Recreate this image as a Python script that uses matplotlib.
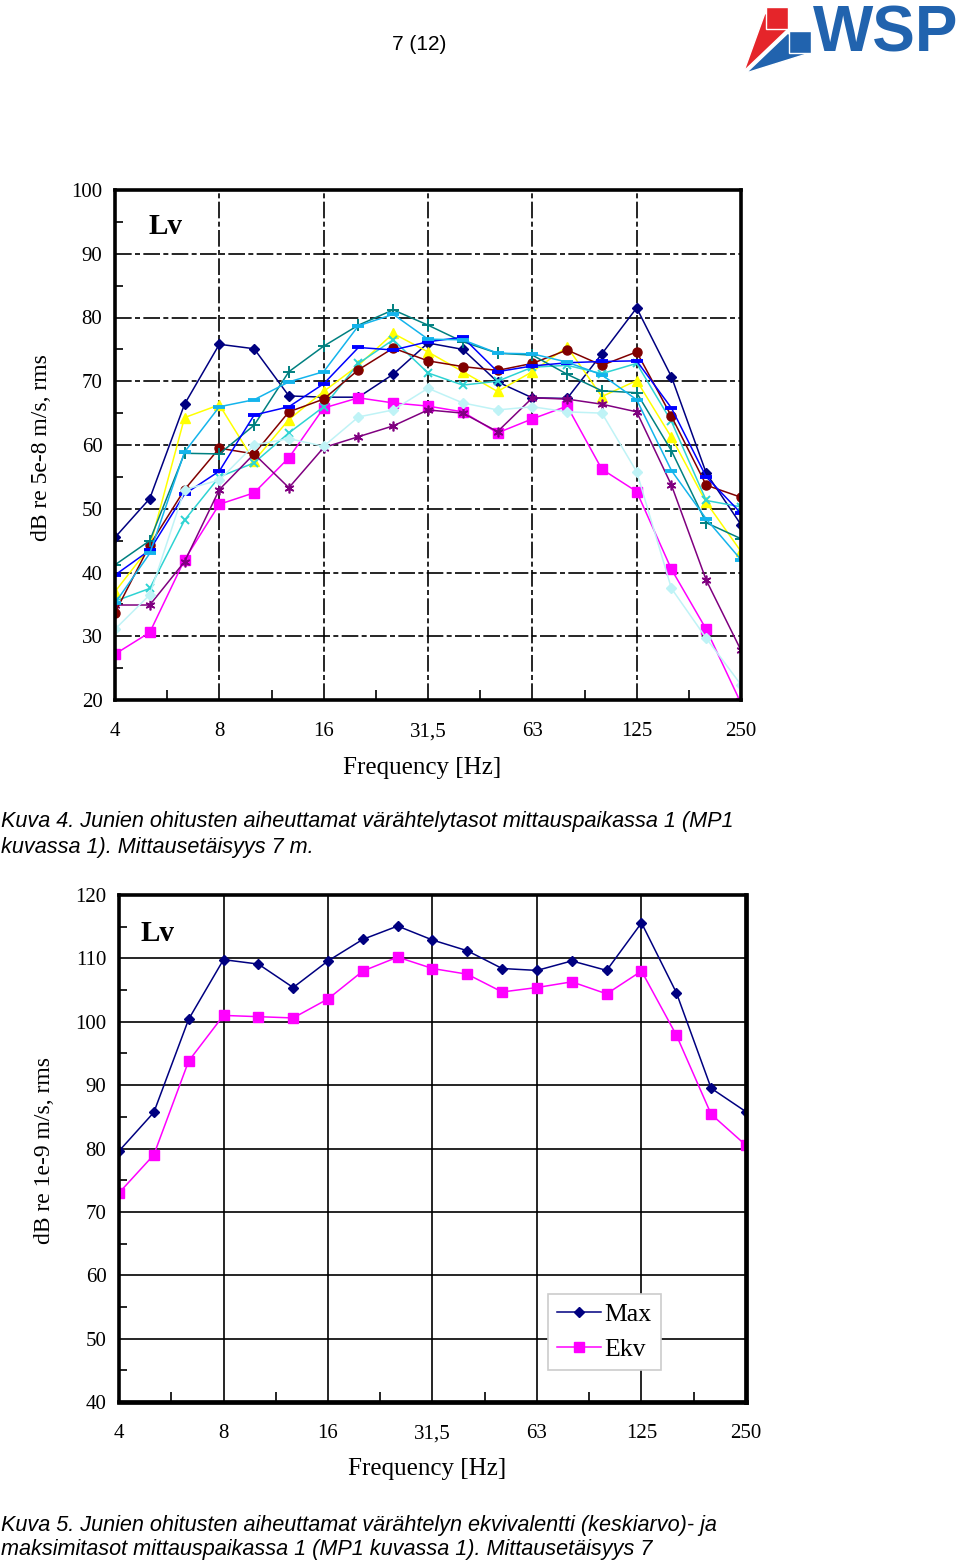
import numpy as np
import matplotlib
matplotlib.use('Agg')
import matplotlib.pyplot as plt
from matplotlib.patches import Polygon
from matplotlib.ticker import MultipleLocator

plt.rcParams['font.family'] = ['Liberation Serif', 'DejaVu Serif']

W, H = 960, 1564

# 1/3 octave bands, Hz
bands = ['4', '5', '6,3', '8', '10', '12,5', '16', '20', '25', '31,5', '40', '50',
         '63', '80', '100', '125', '160', '200', '250']
octave_labels = ['4', '8', '16', '31,5', '63', '125', '250']

# Kuva 4: single train passes, dB re 5e-8 m/s
p1 = [45.5, 51.6, 66.4, 75.8, 75.1, 67.7, 67.5, 67.5, 71.1, 76.0, 75.0, 69.9, 67.4, 67.3, 74.3, 81.5, 70.7, 55.6, 47.5]
p2 = [27.2, 30.6, 42.0, 50.7, 52.5, 58.0, 65.8, 67.4, 66.6, 66.1, 65.2, 61.9, 64.1, 66.1, 56.2, 52.7, 40.5, 31.1, 19.5]
p3 = [37.0, 44.0, 64.3, 66.3, 57.5, 64.0, 68.4, 72.5, 77.5, 74.6, 71.5, 68.4, 71.5, 75.4, 67.6, 70.1, 61.2, 51.0, 43.3]
p4 = [35.5, 37.5, 48.2, 55.0, 57.2, 61.9, 66.0, 72.8, 76.5, 71.3, 69.4, 70.0, 72.2, 72.5, 71.2, 72.8, 63.7, 51.3, 50.3]
p5 = [34.9, 34.9, 41.7, 53.0, 58.6, 53.3, 59.6, 61.3, 63.0, 65.5, 65.0, 62.1, 67.4, 67.2, 66.4, 65.2, 53.7, 38.8, 27.8]
p6 = [33.7, 44.3, 53.0, 59.5, 58.6, 65.2, 67.2, 71.8, 75.2, 73.2, 72.3, 71.7, 72.8, 74.9, 72.5, 74.6, 64.5, 53.7, 51.8]
p7 = [41.2, 45.0, 58.7, 58.6, 63.1, 71.5, 75.5, 78.8, 81.2, 78.8, 76.2, 74.4, 74.1, 71.1, 68.5, 68.2, 59.1, 47.8, 45.3]
p8 = [39.6, 43.5, 52.3, 55.9, 64.7, 66.0, 69.6, 75.3, 74.9, 76.2, 76.9, 71.5, 72.4, 72.9, 73.1, 73.2, 65.8, 55.0, 49.3]
p9 = [35.2, 43.0, 58.9, 66.0, 67.1, 69.9, 71.5, 78.7, 80.5, 76.6, 76.5, 74.4, 74.3, 73.0, 71.0, 67.1, 56.0, 48.4, 42.0]
p10 = [31.1, 36.5, 53.0, 54.5, 60.0, 61.0, 59.8, 64.4, 65.5, 68.9, 66.6, 65.5, 66.0, 65.2, 65.0, 55.8, 37.5, 29.7, 22.4]

# Kuva 5: dB re 1e-9 m/s
lv_max = [79.6, 85.7, 100.4, 109.8, 109.1, 105.4, 109.6, 113.0, 115.1, 112.9, 111.2, 108.4, 108.1, 109.6, 108.1, 115.6, 104.6, 89.5, 85.8]
lv_ekv = [73.0, 79.0, 93.8, 101.0, 100.8, 100.6, 103.6, 108.0, 110.2, 108.4, 107.5, 104.7, 105.4, 106.3, 104.4, 108.0, 97.9, 85.4, 80.5]

# colour, marker, size, edge width
styles = [
    ('#000080', 'D', 5.5, 1.0),
    ('#FF00FF', 's', 6.5, 1.0),
    ('#FFFF00', '^', 6.5, 1.0),
    ('#2ED3D3', 'x', 6.0, 1.4),
    ('#800080', (6, 2, 0), 7.0, 1.2),
    ('#800000', 'o', 6.5, 1.0),
    ('#008080', '+', 8.5, 1.4),
    ('#0000FF', '_', 8.0, 2.8),
    ('#14B4EC', '_', 9.0, 2.8),
    ('#BFF3F6', 'D', 5.0, 1.0),
]


def px_rect(x0, y0, x1, y1):
    return [x0 / W, 1 - y1 / H, (x1 - x0) / W, (y1 - y0) / H]


def style_axes(ax, ymin, ymax, gridls):
    n = len(bands)
    ax.set_xlim(0, n - 1)
    ax.set_ylim(ymin, ymax)
    ax.set_xticks(range(0, n, 3))
    ax.set_xticklabels(octave_labels)
    ax.set_xticks(np.arange(1.5, n - 1, 3), minor=True)
    ax.yaxis.set_major_locator(MultipleLocator(10))
    ax.yaxis.set_minor_locator(MultipleLocator(5))
    ax.grid(True, which='major', color='black', lw=1.2, ls=gridls)
    ax.set_axisbelow(True)
    ax.tick_params(which='both', direction='in', labelsize=15, width=1.2)
    ax.tick_params(axis='y', which='major', length=0, pad=9)
    ax.tick_params(axis='y', which='minor', length=6)
    ax.tick_params(axis='x', which='major', length=0, pad=16)
    ax.tick_params(axis='x', which='minor', length=7)
    for sp in ax.spines.values():
        sp.set_linewidth(2.6)
        sp.set_zorder(5)


fig = plt.figure(figsize=(W / 100, H / 100), dpi=100)

# page layer in pixel coordinates
page = fig.add_axes([0, 0, 1, 1])
page.set_xlim(0, W)
page.set_ylim(H, 0)
page.axis('off')

page.text(419, 45, '7 (12)', fontsize=15, family='Liberation Sans', ha='center', va='center')

# WSP logo
page.add_patch(Polygon([(765, 13), (787, 30), (744, 71)], closed=True, fc='#E5252A', ec='white', lw=1.0))
page.add_patch(Polygon([(766, 7), (788, 7), (788, 29), (766, 29)], closed=True, fc='#E5252A', ec='white', lw=1.0))
page.add_patch(Polygon([(788, 33), (810, 53), (746, 73)], closed=True, fc='#2163AE', ec='white', lw=1.0))
page.add_patch(Polygon([(789, 31), (811, 31), (811, 53), (789, 53)], closed=True, fc='#2163AE', ec='white', lw=1.0))
page.text(813, 52, 'WSP', fontsize=46, fontweight='bold', family='Liberation Sans',
          color='#2163AE', ha='left', va='baseline')

# --- Kuva 4 ---
ax1 = fig.add_axes(px_rect(115, 190, 741, 700))
x = np.arange(len(bands))
for vals, (c, m, ms, mew) in zip([p1, p2, p3, p4, p5, p6, p7, p8, p9, p10], styles):
    ax1.plot(x, vals, color=c, lw=1.1, marker=m, ms=ms, mew=mew, mec=c, mfc=c, clip_on=True)
style_axes(ax1, 20, 100, (0, (10, 2, 3, 2)))
ax1.text(0.053, 0.928, 'Lv', transform=ax1.transAxes, fontsize=21, fontweight='bold', va='center')

page.text(42, 448, 'dB re 5e-8 m/s, rms', rotation=90, fontsize=17, ha='center', va='center')
page.text(422, 768, 'Frequency [Hz]', fontsize=18, ha='center', va='center')

cap_kw = dict(fontsize=15.6, family='Liberation Sans', style='italic', ha='left', va='center')
page.text(1, 822, 'Kuva 4. Junien ohitusten aiheuttamat värähtelytasot mittauspaikassa 1 (MP1', **cap_kw)
page.text(1, 847, 'kuvassa 1). Mittausetäisyys 7 m.', **cap_kw)

# --- Kuva 5 ---
ax2 = fig.add_axes(px_rect(119, 895, 746, 1402))
ax2.plot(x, lv_max, color='#000080', lw=1.1, marker='D', ms=5.5, mec='#000080', mfc='#000080', label='Max')
ax2.plot(x, lv_ekv, color='#FF00FF', lw=1.1, marker='s', ms=6.5, mec='#FF00FF', mfc='#FF00FF', label='Ekv')
style_axes(ax2, 40, 120, '-')
for side in ('right', 'bottom'):
    ax2.spines[side].set_linewidth(3.4)
ax2.text(0.035, 0.925, 'Lv', transform=ax2.transAxes, fontsize=21, fontweight='bold', va='center')
leg = ax2.legend(loc='upper left', bbox_to_anchor=(0.684, 0.213), fontsize=18.5, frameon=True,
                 fancybox=False, edgecolor='#cccccc', framealpha=1, handlelength=1.7,
                 handletextpad=0.15, borderpad=0.35, labelspacing=0.45, borderaxespad=0)
leg.get_frame().set_linewidth(1.2)

page.text(45, 1150, 'dB re 1e-9 m/s, rms', rotation=90, fontsize=17, ha='center', va='center')
page.text(427, 1469, 'Frequency [Hz]', fontsize=18, ha='center', va='center')

page.text(1, 1525, 'Kuva 5. Junien ohitusten aiheuttamat värähtelyn ekvivalentti (keskiarvo)- ja', **cap_kw)
page.text(1, 1549, 'maksimitasot mittauspaikassa 1 (MP1 kuvassa 1). Mittausetäisyys 7', **cap_kw)

fig.savefig('out.png', dpi=100)
